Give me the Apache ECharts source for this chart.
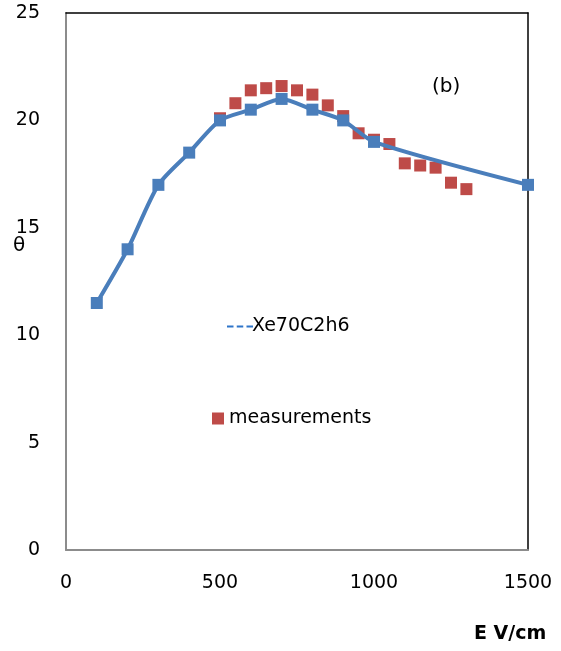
<!DOCTYPE html>
<html>
<head>
<meta charset="utf-8">
<script src="https://cdn.jsdelivr.net/npm/echarts@6/dist/echarts.min.js"></script>
<style>html,body{margin:0;padding:0;background:#fff}#c{width:561px;height:651px}</style>
</head>
<body>
<div id="c"></div>
<script>
const simX = [100, 200, 300, 400, 500, 600, 700, 800, 900, 1000, 1500];
const simY = [11.5, 14.0, 17.0, 18.5, 20.0, 20.5, 21.0, 20.5, 20.0, 19.0, 17.0];
const measX = [500, 550, 600, 650, 700, 750, 800, 850, 900, 950, 1000, 1050, 1100, 1150, 1200, 1250, 1300];
const measY = [20.1, 20.8, 21.4, 21.5, 21.6, 21.4, 21.2, 20.7, 20.2, 19.4, 19.1, 18.9, 18.0, 17.9, 17.8, 17.1, 16.8];
const xTicks = [0, 500, 1000, 1500];
const yTicks = [0, 5, 10, 15, 20, 25];

const FONT = 'DejaVu Sans';
const chart = echarts.init(document.getElementById('c'));
chart.setOption({
  animation: false,
  textStyle: { fontFamily: FONT },
  grid: { left: 66, right: 33, top: 13, bottom: 101 },
  xAxis: [{
    type: 'value', min: xTicks[0], max: xTicks[xTicks.length - 1], interval: 500,
    axisLine: { show: true, lineStyle: { color: '#8c8c8c', width: 2 } },
    axisTick: { show: false }, splitLine: { show: false },
    axisLabel: { color: '#000', fontSize: 19, margin: 24, fontFamily: FONT, formatter: v => String(v) }
  }, {
    type: 'value', position: 'top', min: 0, max: 1500,
    axisLine: { show: true, onZero: false, lineStyle: { color: '#000', width: 1.5 } },
    axisTick: { show: false }, axisLabel: { show: false }, splitLine: { show: false }
  }],
  yAxis: [{
    type: 'value', min: yTicks[0], max: yTicks[yTicks.length - 1], interval: 5,
    axisLine: { show: true, lineStyle: { color: '#8c8c8c', width: 2 } },
    axisTick: { show: false }, splitLine: { show: false },
    axisLabel: { color: '#000', fontSize: 19, margin: 26, fontFamily: FONT, formatter: v => String(v) }
  }, {
    type: 'value', position: 'right', min: 0, max: 25,
    axisLine: { show: true, onZero: false, lineStyle: { color: '#000', width: 1.5 } },
    axisTick: { show: false }, axisLabel: { show: false }, splitLine: { show: false }
  }],
  legend: [{
    orient: 'vertical', left: 222, top: 312, itemWidth: 26, itemHeight: 3, itemGap: 0,
    textStyle: { fontSize: 19, color: '#000', fontFamily: FONT, padding: [0, 0, 0, -6] },
    data: [{ name: 'Xe70C2h6', icon: 'path://M0,0h6v2h-6z M9,0h6v2h-6z M18,0h6v2h-6z', itemStyle: { color: '#2e75c9' } }]
  }, {
    orient: 'vertical', left: 207, top: 404, itemWidth: 12, itemHeight: 12,
    textStyle: { fontSize: 19, color: '#000', fontFamily: FONT },
    data: [{ name: 'measurements', icon: 'rect' }]
  }],
  graphic: [
    { type: 'text', left: 13, top: 236, style: { text: 'θ', fontSize: 20, fill: '#000', fontFamily: FONT } },
    { type: 'text', left: 432, top: 77, style: { text: '(b)', fontSize: 20, fill: '#000', fontFamily: FONT } },
    { type: 'text', left: 474, top: 625, style: { text: 'E V/cm', fontSize: 19, fontWeight: 'bold', fill: '#000', fontFamily: FONT } }
  ],
  series: [{
    name: 'Xe70C2h6', type: 'line', smooth: 0.25,
    data: simX.map((x, i) => [x, simY[i]]),
    symbol: 'rect', symbolSize: 12,
    lineStyle: { color: '#4a7ebb', width: 4 },
    itemStyle: { color: '#4a7ebb', borderWidth: 0 }
  }, {
    name: 'measurements', type: 'scatter',
    data: measX.map((x, i) => [x, measY[i]]),
    symbol: 'rect', symbolSize: 12,
    itemStyle: { color: '#be4b48', borderWidth: 0, opacity: 1 }
  }]
});
</script>
</body>
</html>
